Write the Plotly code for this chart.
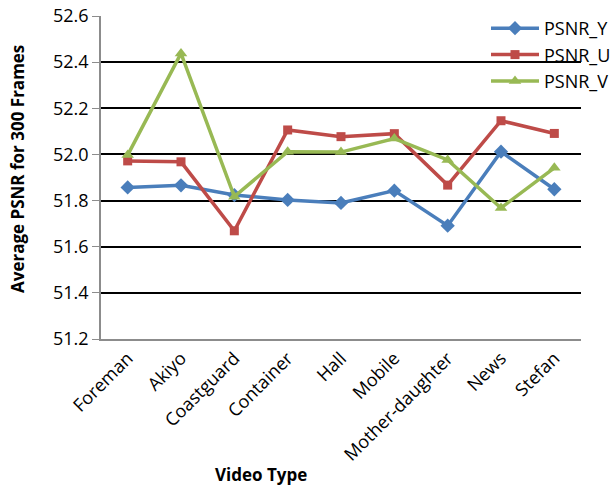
import plotly.graph_objects as go

categories = ["Foreman", "Akiyo", "Coastguard", "Container", "Hall", "Mobile",
              "Mother-daughter", "News", "Stefan"]
psnr_y = [51.857, 51.866, 51.824, 51.803, 51.790, 51.843, 51.691, 52.012, 51.849]
psnr_u = [51.972, 51.968, 51.669, 52.106, 52.077, 52.090, 51.867, 52.146, 52.091]
psnr_v = [51.997, 52.438, 51.817, 52.012, 52.010, 52.069, 51.976, 51.768, 51.942]
y_ticks = [51.2, 51.4, 51.6, 51.8, 52.0, 52.2, 52.4, 52.6]

font_family = "Open Sans, Liberation Sans, sans-serif"

L, R, T, B = 101, 34, 16, 148
W, H = 615, 487
PW, PH = W - L - R, H - T - B

fig = go.Figure()
series = [
    ("PSNR_Y", psnr_y, "#4A7EBB", "diamond", 11),
    ("PSNR_U", psnr_u, "#BE4B48", "square", 9),
    ("PSNR_V", psnr_v, "#98B954", "triangle-up", 11),
]
for name, vals, color, sym, size in series:
    fig.add_trace(go.Scatter(
        x=categories, y=vals, name=name, mode="lines+markers",
        line=dict(color=color, width=3.5),
        marker=dict(symbol=sym, size=size, color=color),
    ))

fig.update_layout(
    width=W, height=H,
    margin=dict(l=L, r=R, t=T, b=B, autoexpand=False),
    paper_bgcolor="white", plot_bgcolor="white",
    font=dict(family=font_family, size=18, color="black"),
    showlegend=True,
    legend=dict(x=486 / W, y=1 - 10 / H, xref="container", yref="container",
                xanchor="left", yanchor="top",
                bgcolor="rgba(0,0,0,0)", font=dict(size=18, color="black"),
                tracegroupgap=0, itemwidth=48),
    xaxis=dict(
        type="category", tickangle=-45, showgrid=False, automargin=False,
        showline=True, linecolor="#8c8c8c", linewidth=1.5,
        ticks="", tickfont=dict(size=18),
        range=[-0.5, len(categories) - 0.5],
    ),
    yaxis=dict(
        range=[51.2, 52.6], tickvals=y_ticks, automargin=False,
        ticktext=[f"{v:.1f}" for v in y_ticks],
        showgrid=True, gridcolor="black", gridwidth=2,
        showline=True, linecolor="#8c8c8c", linewidth=1.5,
        ticks="outside", ticklen=7, tickcolor="#8c8c8c",
        tickfont=dict(size=18), zeroline=False,
    ),
    annotations=[
        dict(text="<b>Video Type</b>", x=(261 - L) / PW, y=-(474 - (T + PH)) / PH,
             xref="paper", yref="paper", xanchor="center", yanchor="middle",
             showarrow=False, font=dict(size=17)),
        dict(text="<b>Average PSNR for 300 Frames</b>", x=(18 - L) / PW,
             y=1 - (169 - T) / PH, xref="paper", yref="paper", textangle=-90,
             xanchor="center", yanchor="middle", showarrow=False, font=dict(size=17)),
    ],
)

fig.write_html("out.html")
